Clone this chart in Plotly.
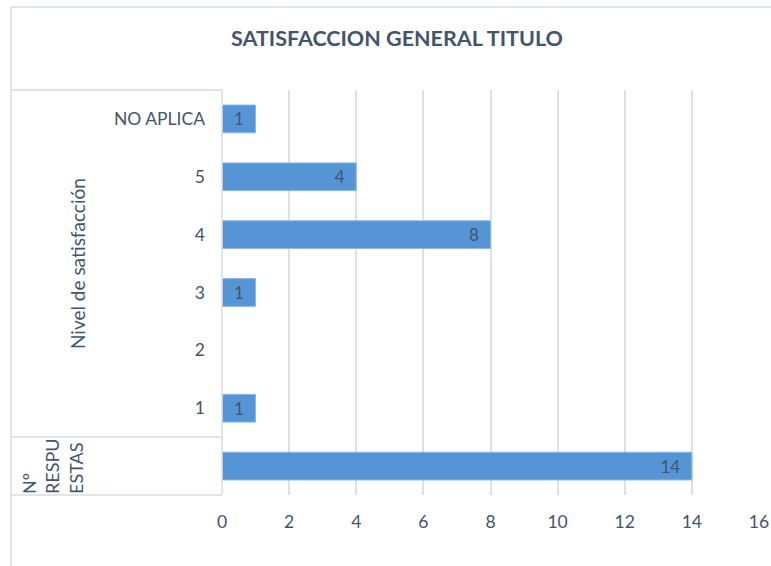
import plotly.graph_objects as go

W, H = 771, 566
title = "SATISFACCION GENERAL TITULO"
categories = ["NO APLICA", "5", "4", "3", "2", "1", " "]
values = [1, 4, 8, 1, None, 1, 14]
group_labels = ["Nivel de satisfacción", "Nº<br>RESPU<br>ESTAS"]
x_ticks = [0, 2, 4, 6, 8, 10, 12, 14, 16]

TXT = "#44546A"
GRID = "#DDE1E6"
FONT = "Lato"

ML, MR, MT, MB = 222, 12, 90, 71
pw = W - ML - MR
ph = H - MT - MB

def px_x(p):
    return (p - ML) / pw

def px_y(p):
    return (H - MB - p) / ph

fig = go.Figure()
fig.add_trace(go.Bar(
    x=values, y=categories, orientation="h",
    marker=dict(color="#5595D5", line=dict(color="#8DB8E4", width=1)),
    text=[("" if v is None else str(v) + "\u00a0\u00a0") for v in values],
    textposition="inside", insidetextanchor="end", textangle=0,
    constraintext="none",
    textfont=dict(family=FONT, size=17, color=TXT),
    width=0.48,
    hoverinfo="skip",
))

shapes = []
line = dict(color="#D9DCE1", width=1.5)
# outer chart border (top, left)
shapes.append(dict(type="line", xref="paper", yref="paper",
                   x0=px_x(11), x1=px_x(W + 5), y0=px_y(7), y1=px_y(7), line=line))
shapes.append(dict(type="line", xref="paper", yref="paper",
                   x0=px_x(11), x1=px_x(11), y0=px_y(7), y1=px_y(H + 5), line=line))
# category box lines
for yy in [90, 437, 495]:
    shapes.append(dict(type="line", xref="paper", yref="paper",
                       x0=px_x(12), x1=0, y0=px_y(yy), y1=px_y(yy), line=line))
shapes.append(dict(type="line", xref="paper", yref="paper",
                   x0=0, x1=0, y0=0, y1=1, line=line))

annotations = [
    dict(text=group_labels[0], xref="paper", yref="paper",
         x=px_x(77), y=px_y(264), textangle=-90, showarrow=False,
         font=dict(family=FONT, size=19, color=TXT), xanchor="center", yanchor="middle"),
    dict(text=group_labels[1], xref="paper", yref="paper",
         x=px_x(52), y=px_y(466), textangle=-90, showarrow=False, align="left",
         font=dict(family=FONT, size=18, color=TXT), xanchor="center", yanchor="middle"),
]

fig.update_layout(
    width=W, height=H,
    margin=dict(l=ML, r=MR, t=MT, b=MB, autoexpand=False),
    paper_bgcolor="white", plot_bgcolor="white",
    title=dict(text="<b>" + title + "</b>", x=(232 + 562) / 2 / W, xanchor="center",
               y=1 - 38 / H, yanchor="middle",
               font=dict(family=FONT, size=21.5, color=TXT)),
    xaxis=dict(range=[0, 16], tickvals=x_ticks, showgrid=True, gridcolor=GRID,
               gridwidth=2, zeroline=False, showline=False, ticks="",
               ticklabelstandoff=14, automargin=False,
               tickfont=dict(family=FONT, size=17.5, color=TXT)),
    yaxis=dict(type="category", categoryorder="array", categoryarray=categories,
               autorange="reversed", showgrid=False, zeroline=False, showline=False,
               ticks="", ticklabelstandoff=16, automargin=False,
               tickfont=dict(family=FONT, size=17.5, color=TXT)),
    shapes=shapes, annotations=annotations,
    showlegend=False,
)

fig.write_html("out.html", config={"displayModeBar": False},
               post_script="document.body.style.margin='0';document.body.style.overflow='hidden';")
